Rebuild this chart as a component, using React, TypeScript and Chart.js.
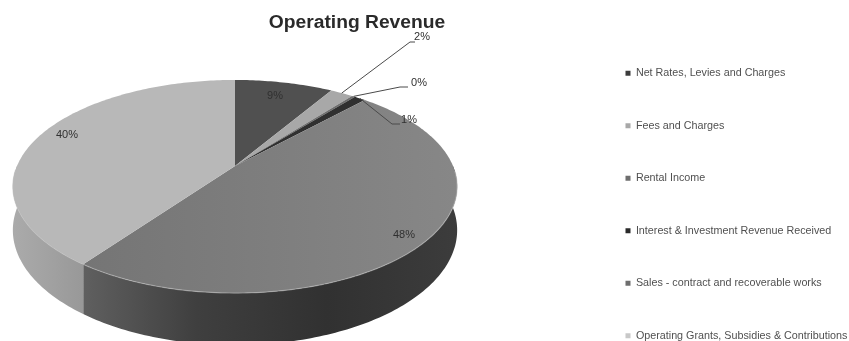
import React, { useEffect, useRef } from "react";
import { Chart, registerables } from "chart.js";

Chart.register(...registerables);

const categories = [
  "Net Rates, Levies and Charges",
  "Fees and Charges",
  "Rental Income",
  "Interest & Investment Revenue Received",
  "Sales - contract and recoverable works",
  "Operating Grants, Subsidies & Contributions",
];
const shares = [8.6, 2.0, 0.3, 1.0, 48.1, 40.0];
const sliceColors = ["#505050", "#a8a8a8", "#6e6e6e", "#303030", "#7e7e7e", "#b8b8b8"];
const legendColors = ["#3c3c3c", "#a8a8a8", "#6e6e6e", "#2a2a2a", "#6e6e6e", "#c8c8c8"];

// Perspective of the tilted disc: unit circle to screen.
const CX = 235, CY = 166, A = 218, B = 102.6, K = 0.1925, DEPTH = 42;
const project = (t: number, drop = 0): [number, number] => {
  const u = Math.cos(t), v = Math.sin(t), w = 1 - K * v;
  return [CX + (A * u) / w, CY + (B * v) / w + (drop * DEPTH) / w];
};

const trace = (ctx: CanvasRenderingContext2D, from: number, to: number, drop: number, first: boolean) => {
  const n = Math.max(2, Math.ceil(Math.abs(to - from) * 60));
  for (let i = 0; i <= n; i++) {
    const [x, y] = project(from + ((to - from) * i) / n, drop);
    if (i === 0 && first) ctx.moveTo(x, y);
    else ctx.lineTo(x, y);
  }
};

// label placement per slice, with a leader line where the slice is too thin
const labelSpots: any[] = [
  { at: [275, 96] },
  { elbow: [410, 42], end: [415, 42], at: [422, 37] },
  { elbow: [400, 87], end: [408, 87], at: [419, 83] },
  { elbow: [392, 124], end: [400, 124], at: [409, 120] },
  { at: [404, 235] },
  { at: [67, 135] },
];

const piePlugin = {
  id: "tiltedPie",
  beforeLayout(chart: any) {
    const lg = chart.legend;
    if (lg && !lg.__patched) {
      const orig = lg.update.bind(lg);
      lg.update = (w: number, _h: number, m: any) => orig(w, 600, m);
      lg.__patched = true;
    }
  },
  afterLayout(chart: any) {
    const lg = chart.legend;
    lg.left = 583.75; lg.right = lg.left + lg.width; lg.top = 26; lg.bottom = lg.top + 600;
    const t = chart.titleBlock;
    t.left = 257; t.right = 457; t.width = 200;
    t.top = 8; t.bottom = 38;
  },
  beforeDatasetsDraw(chart: any) {
    const ctx: CanvasRenderingContext2D = chart.ctx;
    const arcs = chart.getDatasetMeta(0).data;
    ctx.save();
    // side wall
    const salesWall = ctx.createLinearGradient(85, 0, 457, 0);
    salesWall.addColorStop(0, "#5f5f5f");
    salesWall.addColorStop(0.3, "#3f3f3f");
    salesWall.addColorStop(0.65, "#313131");
    salesWall.addColorStop(1, "#3c3c3c");
    const grantsWall = ctx.createLinearGradient(12, 0, 85, 0);
    grantsWall.addColorStop(0, "#ababab");
    grantsWall.addColorStop(1, "#989898");
    [4, 5].forEach((i) => {
      const a = arcs[i];
      const from = Math.max(a.startAngle, 0);
      const to = Math.min(a.endAngle, Math.PI);
      ctx.beginPath();
      trace(ctx, from, to, 0, true);
      trace(ctx, to, from, 1, false);
      ctx.closePath();
      ctx.fillStyle = i === 4 ? salesWall : grantsWall;
      ctx.fill();
    });
    // top surface
    const salesTop = ctx.createLinearGradient(85, 0, 457, 0);
    salesTop.addColorStop(0, "#757575");
    salesTop.addColorStop(1, "#878787");
    arcs.forEach((a: any, i: number) => {
      ctx.beginPath();
      ctx.moveTo(CX, CY);
      trace(ctx, a.startAngle, a.endAngle, 0, false);
      ctx.closePath();
      ctx.fillStyle = i === 4 ? salesTop : sliceColors[i];
      ctx.fill();
    });
    // lit rim
    ctx.beginPath();
    trace(ctx, 0.05, 3.1, 0, true);
    ctx.strokeStyle = "rgba(190,190,190,0.55)";
    ctx.lineWidth = 1.2;
    ctx.stroke();
    // labels and leaders
    ctx.font = '11px "Liberation Sans"';
    ctx.textAlign = "center";
    ctx.textBaseline = "middle";
    arcs.forEach((a: any, i: number) => {
      const spot = labelSpots[i];
      if (spot.elbow) {
        const [x, y] = project((a.startAngle + a.endAngle) / 2);
        ctx.beginPath();
        ctx.moveTo(x, y);
        ctx.lineTo(spot.elbow[0], spot.elbow[1]);
        ctx.lineTo(spot.end[0], spot.end[1]);
        ctx.strokeStyle = "#4a4a4a";
        ctx.lineWidth = 1;
        ctx.stroke();
      }
      ctx.fillStyle = "#303030";
      ctx.fillText(`${Math.round(shares[i])}%`, spot.at[0], spot.at[1]);
    });
    ctx.restore();
    return false;
  },
};

export default function App() {
  const ref = useRef<HTMLCanvasElement>(null);
  useEffect(() => {
    document.body.style.margin = "0";
    const chart = new Chart(ref.current as HTMLCanvasElement, {
      type: "pie",
      data: {
        labels: categories,
        datasets: [{ data: shares, backgroundColor: legendColors, borderWidth: 0 }],
      },
      options: {
        animation: false,
        responsive: false,
        events: [],
        plugins: {
          tooltip: { enabled: false },
          title: {
            display: true,
            text: "Operating Revenue",
            color: "#2a2a2a",
            fullSize: false,
            font: { family: '"Liberation Sans"', size: 19.25, weight: "bold" },
            padding: { top: 3, bottom: 2 },
          },
          legend: {
            position: "right",
            align: "start",
            labels: {
              boxWidth: 5,
              boxHeight: 5,
              padding: 41.75,
              color: "#505050",
              font: { family: '"Liberation Sans"', size: 10.75 },
            },
          },
        },
      } as any,
      plugins: [piePlugin],
    });
    return () => chart.destroy();
  }, []);
  return (
    <canvas
      ref={ref}
      width={849}
      height={341}
      style={{ display: "block", width: 849, height: 341, filter: "blur(0.7px)" }}
    />
  );
}
